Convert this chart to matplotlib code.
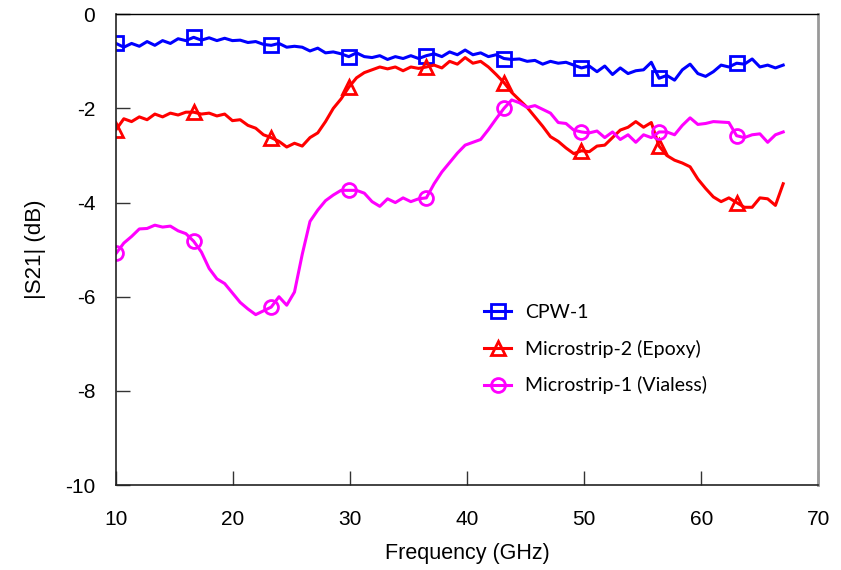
import numpy as np
import matplotlib
matplotlib.use("Agg")
import matplotlib.pyplot as plt
from matplotlib import font_manager

freq = np.linspace(10, 67, 87)

cpw1 = [-0.62, -0.70, -0.62, -0.68, -0.58, -0.66, -0.56, -0.62, -0.52, -0.56,
        -0.49, -0.55, -0.50, -0.56, -0.51, -0.56, -0.55, -0.60, -0.58, -0.64,
        -0.66, -0.62, -0.70, -0.68, -0.70, -0.78, -0.72, -0.82, -0.80, -0.84,
        -0.90, -0.82, -0.90, -0.92, -0.88, -0.96, -0.90, -0.94, -0.88, -0.94,
        -0.88, -0.84, -0.90, -0.80, -0.86, -0.76, -0.86, -0.82, -0.90, -0.86,
        -0.94, -0.96, -0.95, -1.00, -0.98, -1.06, -1.00, -1.04, -1.02, -1.08,
        -1.14, -1.10, -1.22, -1.10, -1.28, -1.14, -1.26, -1.20, -1.18, -1.02,
        -1.36, -1.30, -1.40, -1.18, -1.06, -1.26, -1.32, -1.22, -1.08, -1.12,
        -1.04, -1.06, -0.95, -1.12, -1.08, -1.14, -1.08]

micro2_epoxy = [-2.45, -2.22, -2.28, -2.18, -2.24, -2.12, -2.18, -2.10, -2.14, -2.08,
                -2.08, -2.12, -2.10, -2.16, -2.12, -2.26, -2.24, -2.36, -2.42, -2.56,
                -2.62, -2.70, -2.82, -2.74, -2.80, -2.62, -2.52, -2.28, -2.00, -1.80,
                -1.55, -1.35, -1.24, -1.18, -1.12, -1.16, -1.12, -1.20, -1.12, -1.15,
                -1.12, -1.08, -1.14, -1.00, -1.06, -0.92, -1.04, -1.00, -1.12, -1.28,
                -1.45, -1.66, -1.82, -1.98, -2.18, -2.38, -2.60, -2.70, -2.84, -2.96,
                -2.90, -2.92, -2.80, -2.78, -2.62, -2.46, -2.40, -2.28, -2.40, -2.30,
                -2.80, -3.00, -3.10, -3.16, -3.24, -3.50, -3.70, -3.88, -3.98, -3.90,
                -4.00, -4.10, -4.10, -3.90, -3.92, -4.06, -3.60]

micro1_vialess = [-5.08, -4.86, -4.72, -4.56, -4.55, -4.48, -4.52, -4.50, -4.60, -4.66,
                  -4.82, -5.05, -5.40, -5.62, -5.72, -5.92, -6.12, -6.26, -6.38, -6.30,
                  -6.22, -6.00, -6.18, -5.90, -5.10, -4.40, -4.16, -3.96, -3.84, -3.74,
                  -3.74, -3.74, -3.80, -3.98, -4.08, -3.92, -4.00, -3.90, -3.98, -3.92,
                  -3.90, -3.60, -3.35, -3.15, -2.95, -2.78, -2.72, -2.66, -2.45, -2.22,
                  -2.00, -1.82, -1.88, -1.98, -1.94, -2.02, -2.10, -2.30, -2.32, -2.46,
                  -2.50, -2.52, -2.48, -2.62, -2.50, -2.66, -2.56, -2.72, -2.56, -2.62,
                  -2.50, -2.50, -2.56, -2.36, -2.20, -2.34, -2.32, -2.28, -2.29, -2.30,
                  -2.58, -2.62, -2.56, -2.54, -2.72, -2.56, -2.50]

labels = ["CPW-1", "Microstrip-2 (Epoxy)", "Microstrip-1 (Vialess)"]
colors = ["#0000FF", "#FF0000", "#FF00FF"]
markers = ["s", "^", "o"]

xticks = [10, 20, 30, 40, 50, 60, 70]
yticks = [0, -2, -4, -6, -8, -10]

names = {f.name for f in font_manager.fontManager.ttflist}
axfont = ["Liberation Sans Narrow", "Liberation Sans"] if "Liberation Sans Narrow" in names else ["Liberation Sans"]

fig = plt.figure(figsize=(8.41, 5.70), dpi=100)
ax = fig.add_axes([0.138, 0.149, 0.835, 0.826])

for y, lab, c, m in zip([cpw1, micro2_epoxy, micro1_vialess], labels, colors, markers):
    ax.plot(freq, y, color=c, lw=2.2, marker=m, markersize=10, markerfacecolor="none",
            markeredgewidth=2.0, markevery=10, label=lab)

ax.set_xlim(10, 70)
ax.set_ylim(-10, 0)
ax.set_xticks(xticks)
ax.set_yticks(yticks)
ax.set_xticklabels([str(t) for t in xticks], family=axfont, fontsize=15)
ax.set_yticklabels([str(t) for t in yticks], family=axfont, fontsize=15)
ax.tick_params(axis="both", direction="in", length=10, width=1, color="#333333")
ax.tick_params(axis="x", top=False, pad=18)
ax.tick_params(axis="y", right=False, pad=15)

for s in ["left", "bottom"]:
    ax.spines[s].set_color("#222222")
    ax.spines[s].set_linewidth(1.2)
ax.spines["top"].set_color("#000000")
ax.spines["top"].set_linewidth(1.0)
ax.spines["right"].set_color("#999999")
ax.spines["right"].set_linewidth(2.0)

ax.set_xlabel("Frequency (GHz)", family=axfont, fontsize=15.5, labelpad=10)
ax.set_ylabel("|S21| (dB)", family=axfont, fontsize=16, labelpad=14)

leg = ax.legend(loc="upper left", bbox_to_anchor=(0.524, 0.384), frameon=False,
                prop={"family": "Lato", "size": 14}, handlelength=1.4,
                handletextpad=0.7, labelspacing=0.95, borderpad=0, borderaxespad=0)

fig.savefig("out.png", dpi=100)
